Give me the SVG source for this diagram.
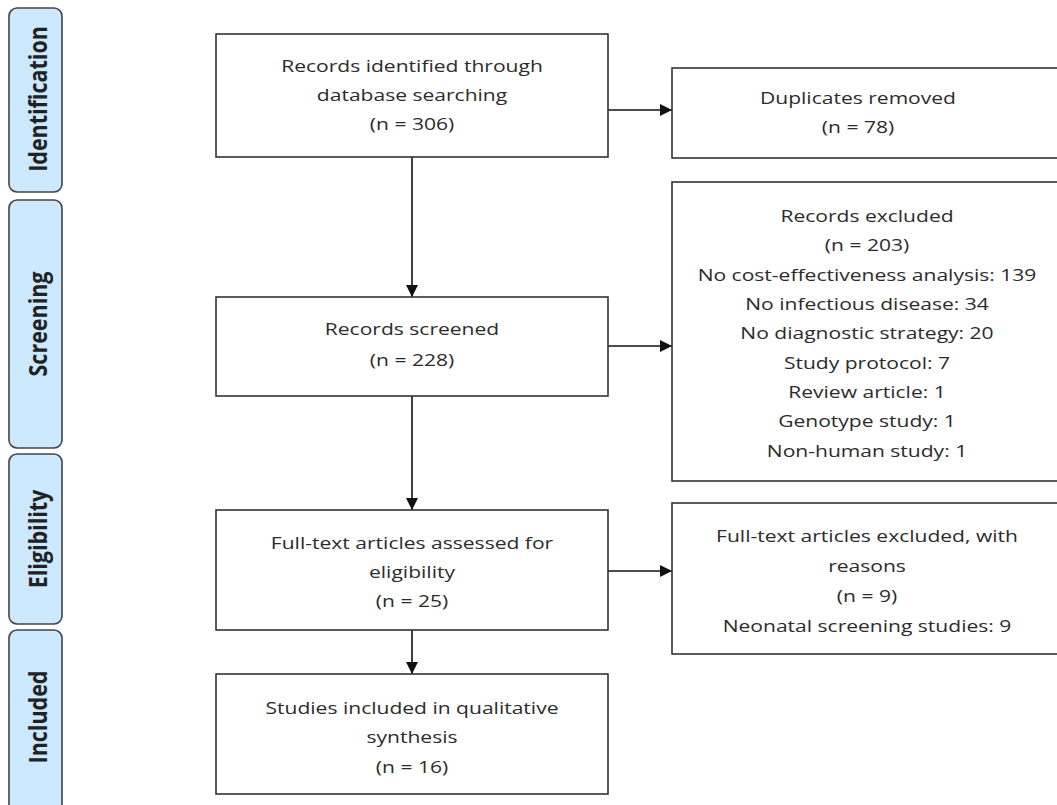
<svg xmlns="http://www.w3.org/2000/svg" width="1057" height="805" viewBox="0 0 1057 805">
<style>
.bg{fill:#ffffff}
.box{fill:#ffffff;stroke:#333333;stroke-width:1.6}
.side{fill:#cce9ff;stroke:#444444;stroke-width:1.6}
.t{font-family:"Open Sans","Liberation Sans",sans-serif;font-size:16.2px;fill:#2b2b2b;text-anchor:middle}
.s{font-family:"Open Sans","Liberation Sans",sans-serif;font-size:21.5px;font-weight:bold;fill:#222222;text-anchor:middle}
.c{stroke:#111111;stroke-width:1.6;fill:none}
</style>
<defs>
<marker id="ah" markerUnits="userSpaceOnUse" markerWidth="12" markerHeight="12" viewBox="0 0 12 12" refX="12" refY="6" orient="auto">
<path d="M0,0 L12,6 L0,12 z" fill="#111111"/>
</marker>
</defs>
<rect class="bg" x="0" y="0" width="1057" height="805"/>

<g id="phase-identification">
<rect class="side" x="9" y="8" width="53" height="184" rx="8"/>
<g transform="translate(47,99) scale(1.2,1) rotate(-90)"><text class="s" x="0" y="0">Identification</text></g>
</g>
<g id="phase-screening">
<rect class="side" x="9" y="200" width="53" height="248" rx="8"/>
<g transform="translate(47,324) scale(1.2,1) rotate(-90)"><text class="s" x="0" y="0">Screening</text></g>
</g>
<g id="phase-eligibility">
<rect class="side" x="9" y="454" width="53" height="170" rx="8"/>
<g transform="translate(47,539) scale(1.2,1) rotate(-90)"><text class="s" x="0" y="0">Eligibility</text></g>
</g>
<g id="phase-included">
<rect class="side" x="9" y="630" width="53" height="190" rx="8"/>
<g transform="translate(47,717) scale(1.2,1) rotate(-90)"><text class="s" x="0" y="0">Included</text></g>
</g>

<g id="connectors">
<line class="c" x1="412" y1="157" x2="412" y2="297" marker-end="url(#ah)"/>
<line class="c" x1="412" y1="396" x2="412" y2="510" marker-end="url(#ah)"/>
<line class="c" x1="412" y1="630" x2="412" y2="674" marker-end="url(#ah)"/>
<line class="c" x1="608" y1="110" x2="672" y2="110" marker-end="url(#ah)"/>
<line class="c" x1="608" y1="346" x2="672" y2="346" marker-end="url(#ah)"/>
<line class="c" x1="608" y1="571" x2="672" y2="571" marker-end="url(#ah)"/>
</g>

<g id="records-identified">
<rect class="box" x="216" y="34" width="392" height="123"/>
<g transform="translate(412,0) scale(1.3,1)">
<text class="t" x="0" y="72">Records identified through</text>
<text class="t" x="0" y="101">database searching</text>
<text class="t" x="0" y="130">(n = 306)</text>
</g>
</g>

<g id="duplicates-removed">
<rect class="box" x="672" y="68" width="400" height="90"/>
<g transform="translate(858,0) scale(1.3,1)">
<text class="t" x="0" y="104">Duplicates removed</text>
<text class="t" x="0" y="133">(n = 78)</text>
</g>
</g>

<g id="records-screened">
<rect class="box" x="216" y="297" width="392" height="99"/>
<g transform="translate(412,0) scale(1.3,1)">
<text class="t" x="0" y="335">Records screened</text>
<text class="t" x="0" y="366">(n = 228)</text>
</g>
</g>

<g id="records-excluded">
<rect class="box" x="672" y="182" width="400" height="299"/>
<g transform="translate(867,0) scale(1.3,1)">
<text class="t" x="0" y="222">Records excluded</text>
<text class="t" x="0" y="251">(n = 203)</text>
<text class="t" x="0" y="281">No cost-effectiveness analysis: 139</text>
<text class="t" x="0" y="310">No infectious disease: 34</text>
<text class="t" x="0" y="339">No diagnostic strategy: 20</text>
<text class="t" x="0" y="369">Study protocol: 7</text>
<text class="t" x="0" y="398">Review article: 1</text>
<text class="t" x="0" y="427">Genotype study: 1</text>
<text class="t" x="0" y="457">Non-human study: 1</text>
</g>
</g>

<g id="full-text-assessed">
<rect class="box" x="216" y="510" width="392" height="120"/>
<g transform="translate(412,0) scale(1.3,1)">
<text class="t" x="0" y="549">Full-text articles assessed for</text>
<text class="t" x="0" y="578">eligibility</text>
<text class="t" x="0" y="607">(n = 25)</text>
</g>
</g>

<g id="full-text-excluded">
<rect class="box" x="672" y="503" width="400" height="151"/>
<g transform="translate(867,0) scale(1.3,1)">
<text class="t" x="0" y="542">Full-text articles excluded, with</text>
<text class="t" x="0" y="572">reasons</text>
<text class="t" x="0" y="602">(n = 9)</text>
<text class="t" x="0" y="632">Neonatal screening studies: 9</text>
</g>
</g>

<g id="studies-included">
<rect class="box" x="216" y="674" width="392" height="120"/>
<g transform="translate(412,0) scale(1.3,1)">
<text class="t" x="0" y="714">Studies included in qualitative</text>
<text class="t" x="0" y="743">synthesis</text>
<text class="t" x="0" y="773">(n = 16)</text>
</g>
</g>
</svg>
